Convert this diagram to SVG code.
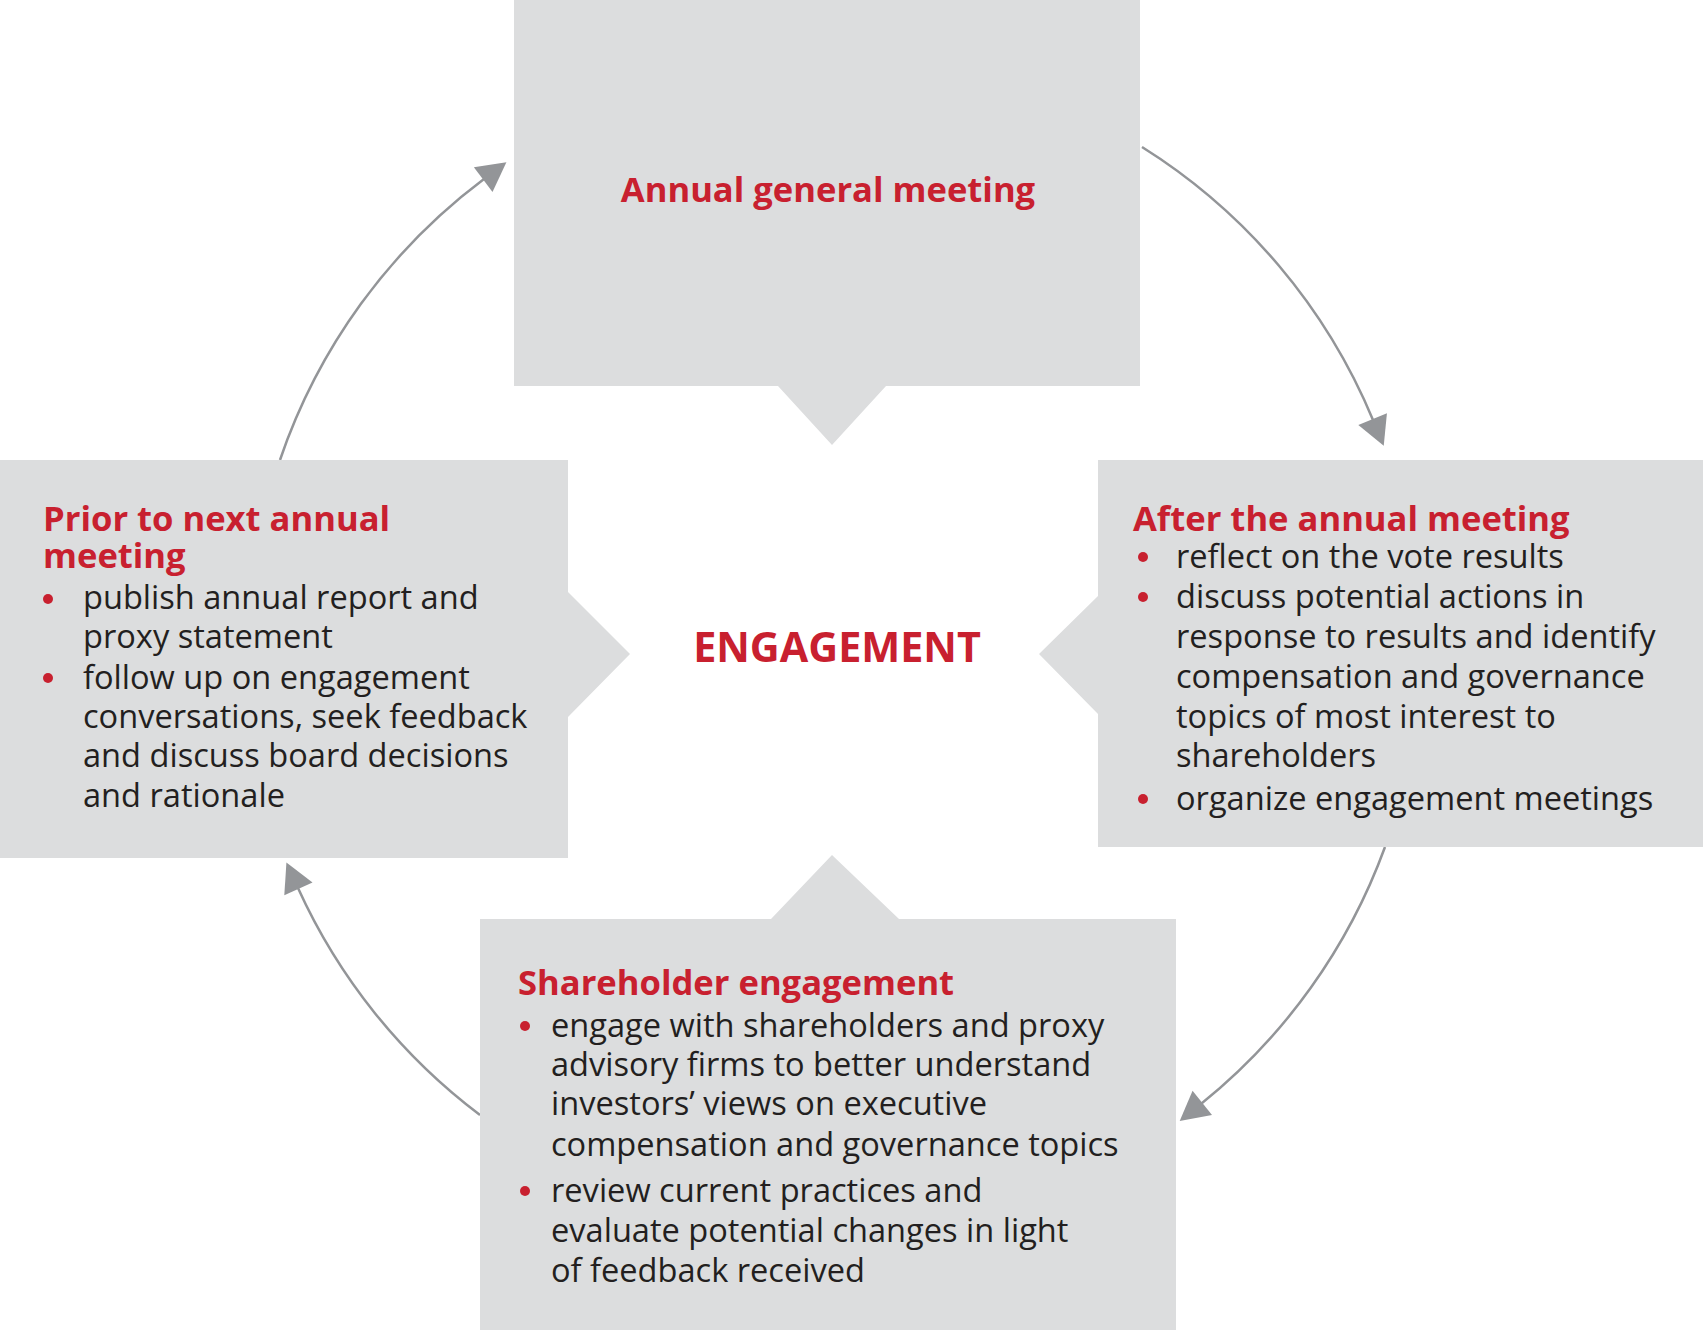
<svg xmlns="http://www.w3.org/2000/svg" width="1703" height="1330" viewBox="0 0 1703 1330">
<style>
.box{fill:#dcddde}
.title{font-family:"Open Sans","Noto Sans",sans-serif;font-weight:700;font-size:34.6px;fill:#c8202f}
.body{font-family:"Open Sans","Noto Sans",sans-serif;font-size:32.6px;fill:#231f20}
.dot{fill:#c8202f}
.arc{fill:none;stroke:#939598;stroke-width:2.5}
</style>
<defs>
<marker id="ah" markerUnits="userSpaceOnUse" markerWidth="32" markerHeight="34" viewBox="-2 -17 32 34" refX="0" refY="0" orient="auto">
<path d="M-1,-15.5 L28,0 L-1,15.5 Z" fill="#939598"/>
</marker>
</defs>
<rect width="1703" height="1330" fill="#ffffff"/>
<g id="connectors">
<path class="arc" d="M280,460 A588,588 0 0 1 484,179" marker-end="url(#ah)"/>
<path class="arc" d="M1142,147 A588,588 0 0 1 1373,420" marker-end="url(#ah)"/>
<path class="arc" d="M1385,847 A588,588 0 0 1 1201.5,1103.5" marker-end="url(#ah)"/>
<path class="arc" d="M480,1115 A588,588 0 0 1 298,888" marker-end="url(#ah)"/>
</g>
<g id="node-agm">
<path class="box" d="M514,0 H1140 V386 H886 L832,445 L778,386 H514 Z"/>
<text class="title" x="828" y="202" text-anchor="middle">Annual general meeting</text>
</g>
<g id="node-prior">
<path class="box" d="M0,460 H568 V592 L630,654 L568,717 V858 H0 Z"/>
<text class="title" x="43" y="531">Prior to next annual</text>
<text class="title" x="43" y="568">meeting</text>
<circle class="dot" cx="48" cy="599" r="5"/>
<circle class="dot" cx="48" cy="678" r="5"/>
<text class="body" x="83"><tspan x="83" y="609">publish annual report and</tspan><tspan x="83" y="648">proxy statement</tspan><tspan x="83" y="689">follow up on engagement</tspan><tspan x="83" y="728">conversations, seek feedback</tspan><tspan x="83" y="767">and discuss board decisions</tspan><tspan x="83" y="807">and rationale</tspan></text>
</g>
<g id="node-after">
<path class="box" d="M1098,460 H1703 V847 H1098 V714 L1039,654 L1098,596 Z"/>
<text class="title" x="1133" y="531">After the annual meeting</text>
<circle class="dot" cx="1143" cy="557" r="5"/>
<circle class="dot" cx="1143" cy="597" r="5"/>
<circle class="dot" cx="1143" cy="799" r="5"/>
<text class="body"><tspan x="1176" y="568">reflect on the vote results</tspan><tspan x="1176" y="608">discuss potential actions in</tspan><tspan x="1176" y="648">response to results and identify</tspan><tspan x="1176" y="688">compensation and governance</tspan><tspan x="1176" y="728">topics of most interest to</tspan><tspan x="1176" y="767">shareholders</tspan><tspan x="1176" y="810">organize engagement meetings</tspan></text>
</g>
<g id="node-shareholder">
<path class="box" d="M480,919 H771 L832,855 L899,919 H1176 V1330 H480 Z"/>
<text class="title" x="518" y="995">Shareholder engagement</text>
<circle class="dot" cx="525" cy="1026" r="5"/>
<circle class="dot" cx="525" cy="1191" r="5"/>
<text class="body"><tspan x="551" y="1037">engage with shareholders and proxy</tspan><tspan x="551" y="1076">advisory firms to better understand</tspan><tspan x="551" y="1115">investors’ views on executive</tspan><tspan x="551" y="1156">compensation and governance topics</tspan><tspan x="551" y="1202">review current practices and</tspan><tspan x="551" y="1242">evaluate potential changes in light</tspan><tspan x="551" y="1282">of feedback received</tspan></text>
</g>
<g id="node-engagement">
<text class="title" x="837" y="662" text-anchor="middle" style="font-size:41.3px">ENGAGEMENT</text>
</g>
</svg>
